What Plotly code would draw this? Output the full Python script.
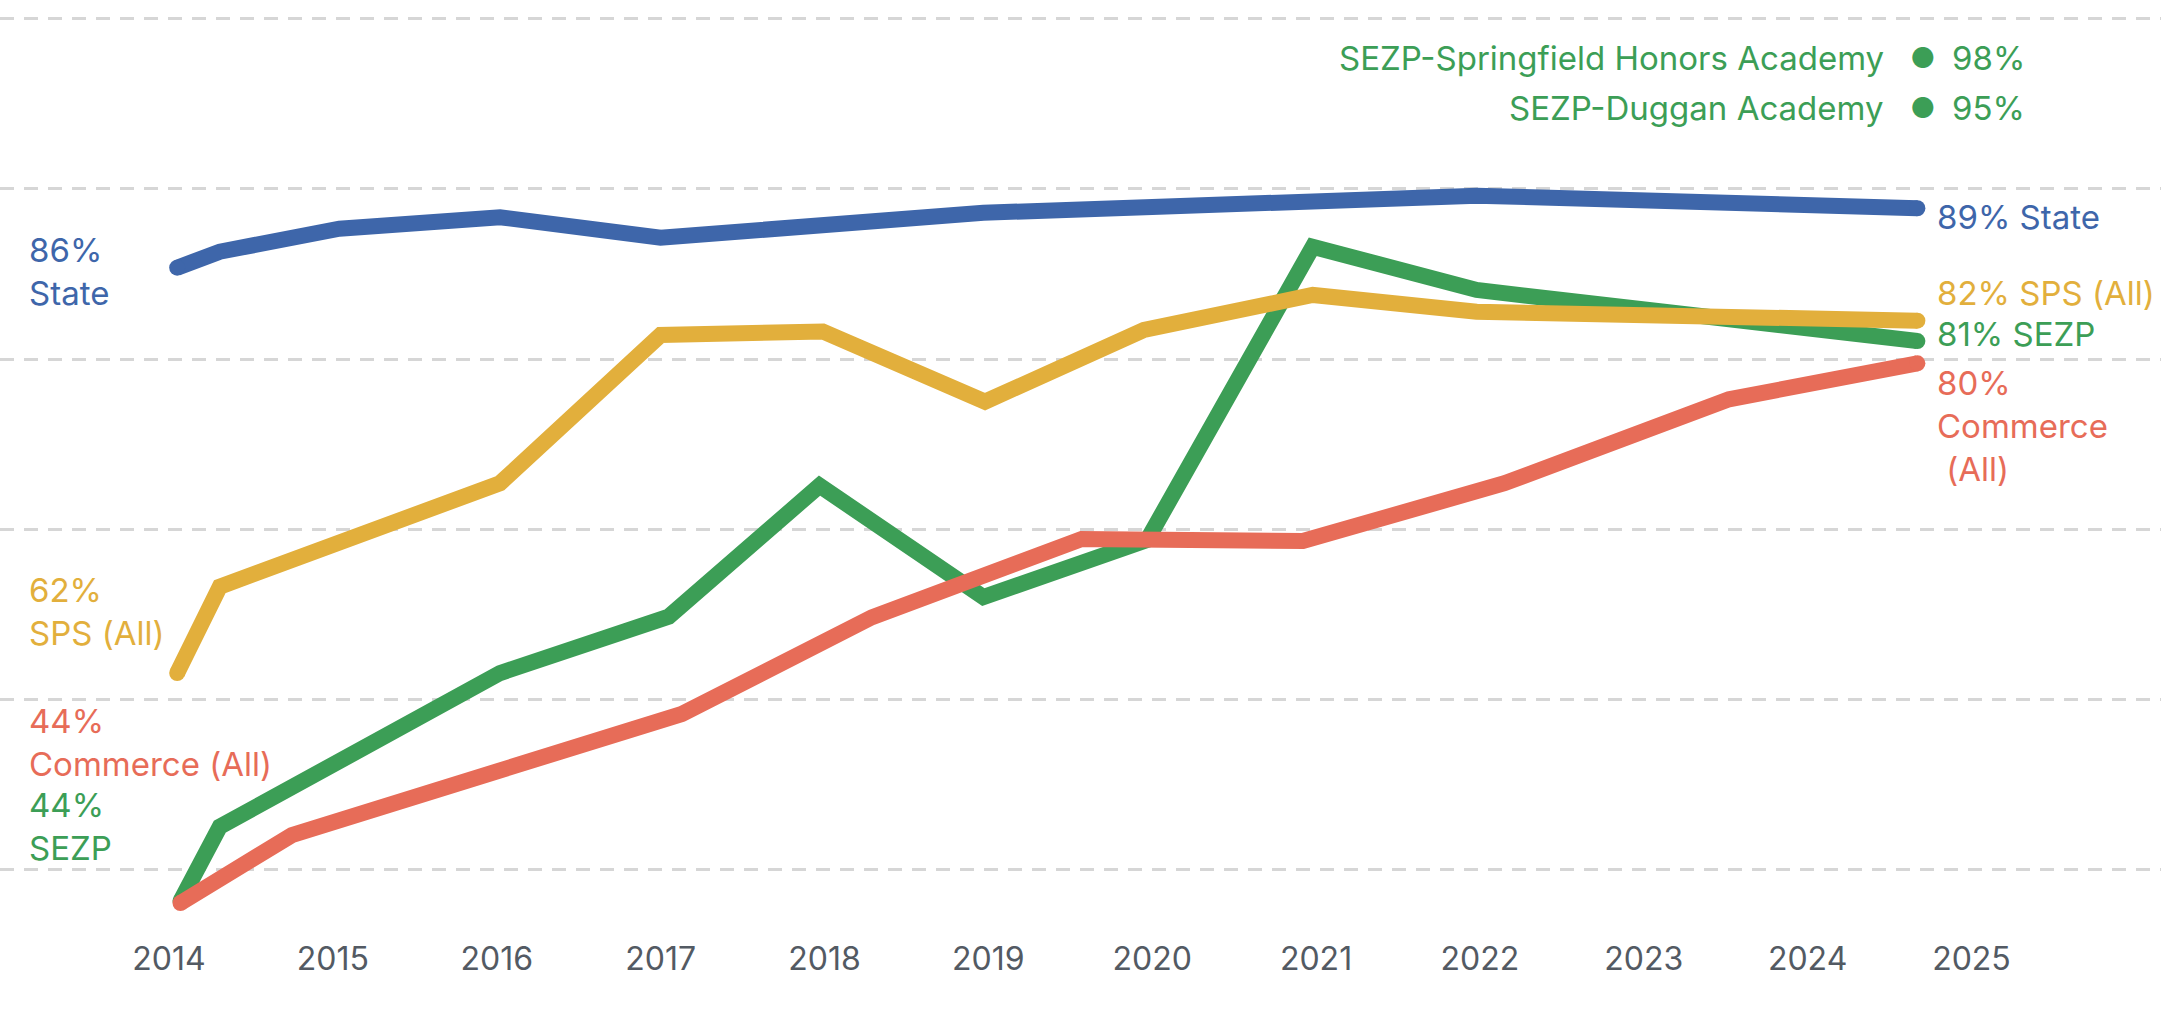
import plotly.graph_objects as go

# ---------------- data ----------------
year_ticks = list(range(2014, 2026))
year_labels = [str(y) for y in year_ticks]

state_x = [2014.05, 2014.31, 2015.04, 2016.02, 2017.00, 2017.99, 2018.97, 2020.00, 2021.98, 2024.67]
state_y = [86.10, 87.17, 88.70, 89.47, 88.10, 88.82, 89.77, 90.15, 90.91, 90.07]

sps_x = [2014.05, 2014.31, 2016.02, 2017.00, 2017.99, 2018.98, 2019.95, 2020.98, 2021.98, 2024.67]
sps_y = [59.02, 64.79, 71.70, 81.60, 81.84, 77.15, 81.94, 84.28, 83.16, 82.56]

sezp_x = [2014.07, 2014.31, 2016.02, 2017.05, 2017.97, 2018.97, 2019.97, 2020.98, 2021.98, 2024.67]
sezp_y = [43.79, 48.76, 59.02, 62.79, 71.54, 64.10, 67.91, 87.50, 84.61, 81.20]

commerce_x = [2014.07, 2014.75, 2017.13, 2018.29, 2019.57, 2020.92, 2022.15, 2023.52, 2024.67]
commerce_y = [43.66, 48.20, 56.29, 62.75, 67.98, 67.84, 71.70, 77.31, 79.71]

school_names = ["SEZP-Springfield Honors Academy", "SEZP-Duggan Academy"]
school_values = ["98%", "95%"]

start_labels = {"State": "86%<br>State", "SPS": "62%<br>SPS (All)",
                "Commerce": "44%<br>Commerce (All)", "SEZP": "44%<br>SEZP"}
end_labels = {"State": "89% State", "SPS": "82% SPS (All)",
              "SEZP": "81% SEZP", "Commerce": "80%<br>Commerce<br> (All)"}

# ---------------- style ----------------
W, H = 2161, 1013
B = 88
PH = H - B
BLUE, YELLOW, GREEN, RED = "#3E66AA", "#E2AF3C", "#3C9E56", "#E76C58"
GRID = "#D6D6D6"
TICK = "#535A63"
FONT = "Inter"
FS = 33
LW = 16

def px(x):
    return x / W

def py(y):
    return (PH - y) / PH

fig = go.Figure()
series = [
    ("SEZP", sezp_x, sezp_y, GREEN),
    ("Commerce", commerce_x, commerce_y, RED),
    ("SPS", sps_x, sps_y, YELLOW),
    ("State", state_x, state_y, BLUE),
]
for name, xs, ys, col in series:
    fig.add_trace(go.Scatter(x=xs, y=ys, mode="lines", name=name,
                             line=dict(color=col, width=LW), hoverinfo="skip"))
    fig.add_trace(go.Scatter(x=[xs[0], xs[-1]], y=[ys[0], ys[-1]], mode="markers",
                             marker=dict(color=col, size=LW, line=dict(width=0)),
                             hoverinfo="skip", showlegend=False))

ann = []
def add(text, x, y, col, xanchor="left", size=FS):
    ann.append(dict(text=text, x=px(x), y=py(y), xref="paper", yref="paper",
                    xanchor=xanchor, yanchor="middle", showarrow=False, align="left",
                    font=dict(family=FONT, size=size, color=col)))

colors = {"State": BLUE, "SPS": YELLOW, "Commerce": RED, "SEZP": GREEN}
for k, yy in [("State", 271), ("SPS", 611), ("Commerce", 742), ("SEZP", 826)]:
    add(start_labels[k], 27, yy, colors[k])
for k, yy in [("State", 217), ("SPS", 293), ("SEZP", 334), ("Commerce", 426)]:
    add(end_labels[k], 1935, yy, colors[k])

for i, (nm, val) in enumerate(zip(school_names, school_values)):
    yy = 58 + 50 * i
    add(nm, 1886, yy, GREEN, xanchor="right")
    add("●", 1923, yy, GREEN, xanchor="center", size=28)
    add(val, 1950, yy, GREEN)

fig.update_layout(
    width=W, height=H,
    margin=dict(l=0, r=0, t=0, b=B),
    paper_bgcolor="white", plot_bgcolor="white",
    showlegend=False,
    annotations=ann,
    xaxis=dict(range=[2014 - 169 / 163.86, 2014 + (W - 169) / 163.86],
               tickvals=year_ticks, ticktext=year_labels,
               showgrid=False, zeroline=False, showline=False, ticks="",
               ticklabelstandoff=12,
               tickfont=dict(family=FONT, size=32, color=TICK)),
    yaxis=dict(range=[80 - (PH - 359) / 14.97, 80 + 359 / 14.97],
               tick0=80, dtick=11.37, showticklabels=False,
               showgrid=True, gridcolor=GRID, gridwidth=3, griddash="14px,10px",
               zeroline=False, showline=False, ticks=""),
)

fig.write_html("out.html")
